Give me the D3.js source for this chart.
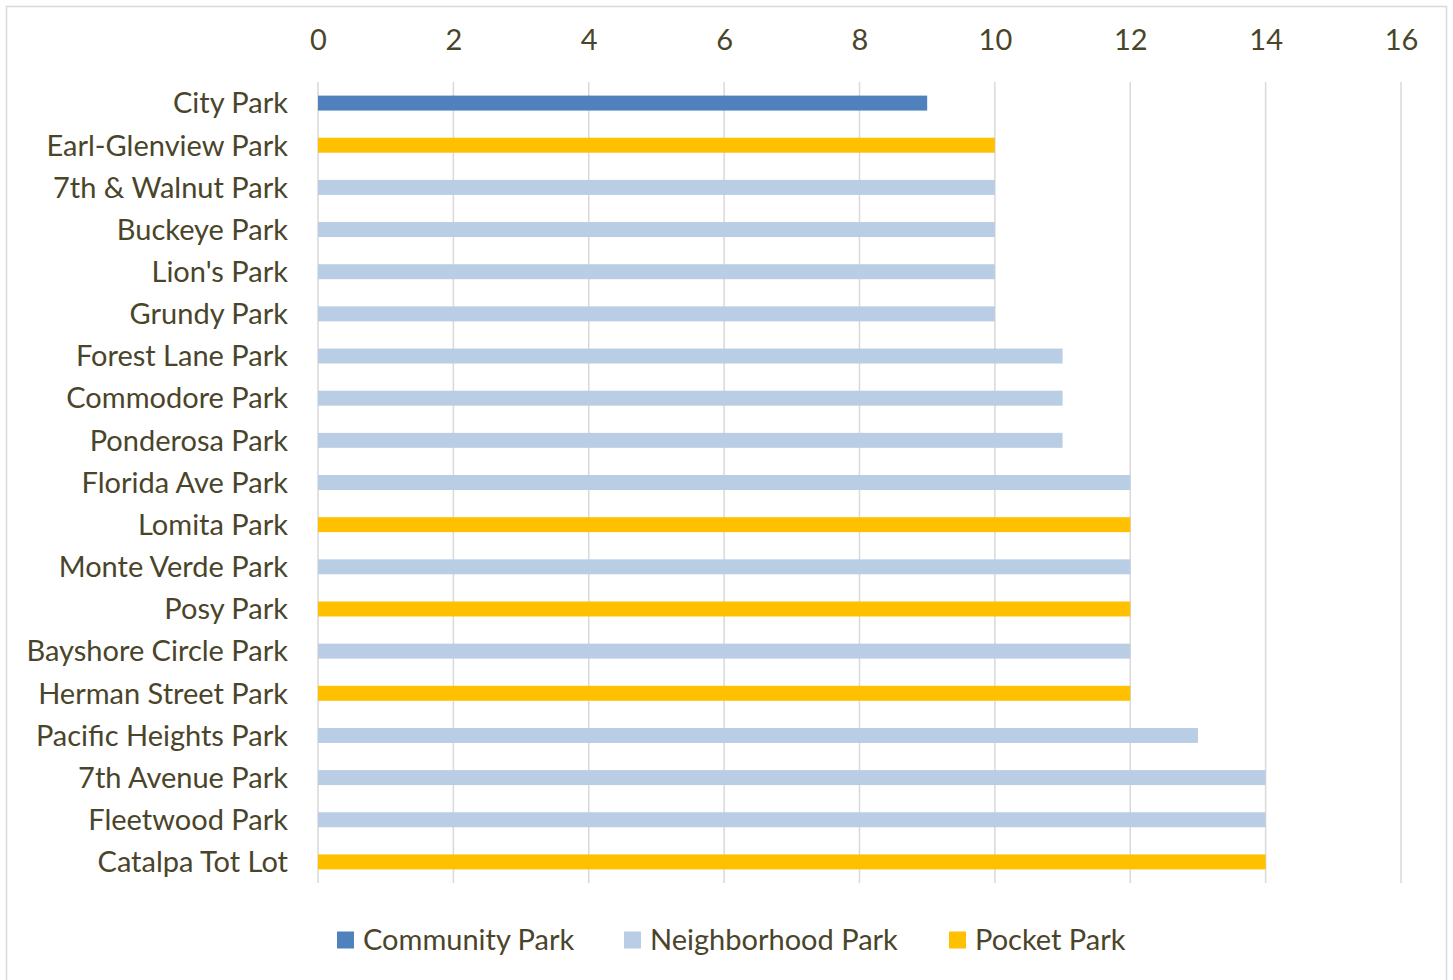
<!DOCTYPE html>
<html>
<head>
<meta charset="utf-8">
<script src="https://cdn.jsdelivr.net/npm/d3@7"></script>
<style>
  html, body { margin: 0; padding: 0; background: #fff; }
  svg { display: block; }
  text { font-family: Lato, "Open Sans", sans-serif; fill: #4a452a; }
</style>
</head>
<body>
<svg id="chart" width="1453" height="980"></svg>
<script>
// Park names, top to bottom
const parks = [
  "City Park", "Earl-Glenview Park", "7th & Walnut Park", "Buckeye Park",
  "Lion's Park", "Grundy Park", "Forest Lane Park", "Commodore Park",
  "Ponderosa Park", "Florida Ave Park", "Lomita Park", "Monte Verde Park",
  "Posy Park", "Bayshore Circle Park", "Herman Street Park",
  "Pacific Heights Park", "7th Avenue Park", "Fleetwood Park", "Catalpa Tot Lot"
];
const values = [9, 10, 10, 10, 10, 10, 11, 11, 11, 12, 12, 12, 12, 12, 12, 13, 14, 14, 14];
const parkTypes = [
  "Community Park", "Pocket Park", "Neighborhood Park", "Neighborhood Park",
  "Neighborhood Park", "Neighborhood Park", "Neighborhood Park", "Neighborhood Park",
  "Neighborhood Park", "Neighborhood Park", "Pocket Park", "Neighborhood Park",
  "Pocket Park", "Neighborhood Park", "Pocket Park",
  "Neighborhood Park", "Neighborhood Park", "Neighborhood Park", "Pocket Park"
];
const legendTypes = ["Community Park", "Neighborhood Park", "Pocket Park"];
const typeColors = ["#4f81bd", "#b9cde5", "#ffc000"];
const xTicks = [0, 2, 4, 6, 8, 10, 12, 14, 16];

const FONT = "Lato, 'Open Sans', sans-serif";
const FONT_SIZE = 29;
const TEXT_COLOR = "#4a452a";

const svg = d3.select("#chart");

// outer chart frame
svg.append("rect")
  .attr("x", 6.5).attr("y", 6.5)
  .attr("width", 1440).attr("height", 990)
  .attr("fill", "#fff").attr("stroke", "#d9d9d9").attr("stroke-width", 1.5);

const plot = { left: 318, right: 1401, top: 82, bottom: 883 };

const x = d3.scaleLinear().domain([0, 16]).range([plot.left, plot.right]);
const y = d3.scaleBand().domain(parks).range([plot.top, plot.bottom]).paddingInner(0.645).paddingOuter(0.3225);
const color = d3.scaleOrdinal().domain(legendTypes).range(typeColors);

// vertical gridlines
svg.append("g").selectAll("line")
  .data(xTicks).join("line")
  .attr("x1", d => x(d)).attr("x2", d => x(d))
  .attr("y1", plot.top).attr("y2", plot.bottom)
  .attr("stroke", "#d9d9d9").attr("stroke-width", 1.5);

// top value axis
const xAxis = svg.append("g")
  .attr("transform", `translate(0, 50)`)
  .call(d3.axisTop(x).tickValues(xTicks).tickSize(0).tickPadding(0));
xAxis.select(".domain").remove();
xAxis.selectAll("text")
  .attr("font-size", FONT_SIZE)
  .style("font-family", FONT)
  .attr("fill", TEXT_COLOR);

// bars
svg.append("g").selectAll("rect")
  .data(parks).join("rect")
  .attr("x", x(0))
  .attr("y", d => y(d))
  .attr("width", (d, i) => x(values[i]) - x(0))
  .attr("height", y.bandwidth())
  .attr("fill", (d, i) => color(parkTypes[i]));

// category axis
const yAxis = svg.append("g")
  .attr("transform", `translate(${plot.left}, 1)`)
  .call(d3.axisLeft(y).tickSize(0).tickPadding(30));
yAxis.select(".domain").remove();
yAxis.selectAll("text")
  .attr("font-size", FONT_SIZE)
  .style("font-family", FONT)
  .attr("fill", TEXT_COLOR);

// legend
const legendX = [337, 624, 949];
const legend = svg.append("g").selectAll("g")
  .data(legendTypes).join("g")
  .attr("transform", (d, i) => `translate(${legendX[i]}, 940)`);
legend.append("rect")
  .attr("x", 0).attr("y", -8.5).attr("width", 17).attr("height", 17)
  .attr("fill", d => color(d));
legend.append("text")
  .attr("x", 26).attr("dy", "0.35em")
  .attr("font-size", FONT_SIZE)
  .text(d => d);
</script>
</body>
</html>
